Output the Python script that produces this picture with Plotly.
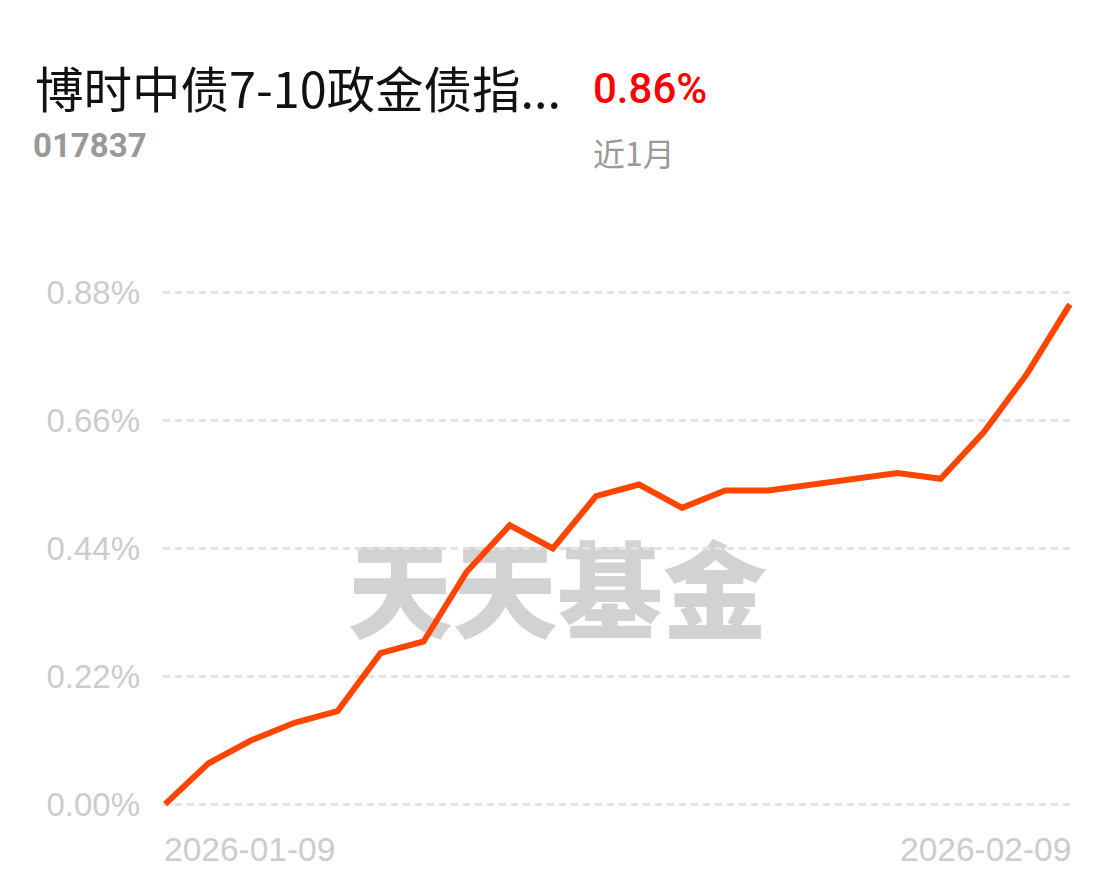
import plotly.graph_objects as go

# ---- data ----
dates = [
    "2026-01-09", "2026-01-12", "2026-01-13", "2026-01-14", "2026-01-15", "2026-01-16",
    "2026-01-19", "2026-01-20", "2026-01-21", "2026-01-22", "2026-01-23",
    "2026-01-26", "2026-01-27", "2026-01-28", "2026-01-29", "2026-01-30",
    "2026-02-02", "2026-02-03", "2026-02-04", "2026-02-05", "2026-02-06",
    "2026-02-09",
]
returns = [
    0.00, 0.07, 0.11, 0.14, 0.16, 0.26,
    0.28, 0.40, 0.48, 0.44, 0.53,
    0.55, 0.51, 0.54, 0.54, 0.55,
    0.56, 0.57, 0.56, 0.64, 0.74,
    0.86,
]
y_ticks = [0.00, 0.22, 0.44, 0.66, 0.88]
y_tick_labels = ["0.00%", "0.22%", "0.44%", "0.66%", "0.88%"]
x_label_first = dates[0]
x_label_last = dates[-1]

fund_name = "博时中债7-10政金债指..."
fund_code = "017837"
period_return = "0.86%"
period_label = "近1月"
watermark = "天天基金"

# ---- layout geometry (page body has an 8px margin) ----
O = 8
W, H = 1116 - O, 881 - O
L, R, T, B = 155, 44, 279, 71
PW, PH = W - L - R, H - T - B


def px(xp):
    return (xp - O - L) / PW


def py(yp):
    return (H - B - (yp - O)) / PH


fig = go.Figure()
fig.add_trace(go.Scatter(
    x=dates, y=returns, mode="lines",
    line=dict(color="#ff4500", width=6),
    hoverinfo="skip",
))

# watermark below gridlines and line
fig.add_shape(
    type="rect", xref="paper", yref="paper",
    x0=px(350), x1=px(765), y0=py(650), y1=py(552),
    line=dict(width=0), fillcolor="rgba(0,0,0,0)", layer="below",
    label=dict(text=watermark, textposition="middle center",
               font=dict(size=105, color="#d2d2d2", family="Noto Sans CJK SC", weight=900)),
)

ann = []
ann.append(dict(text=fund_name, x=px(33), y=py(87), xref="paper", yref="paper",
                xanchor="left", yanchor="middle", showarrow=False,
                font=dict(size=48.5, color="#111111", family="Noto Sans CJK SC")))
ann.append(dict(text=period_return, x=px(591), y=py(88), xref="paper", yref="paper",
                xanchor="left", yanchor="middle", showarrow=False,
                font=dict(size=42, color="#ff0000", family="Roboto", weight=500)))
ann.append(dict(text=fund_code, x=px(31), y=py(146), xref="paper", yref="paper",
                xanchor="left", yanchor="middle", showarrow=False,
                font=dict(size=33, color="#999999", family="Roboto", weight=700)))
ann.append(dict(text=period_label, x=px(591), y=py(152), xref="paper", yref="paper",
                xanchor="left", yanchor="middle", showarrow=False,
                font=dict(size=32, color="#999999", family="Noto Sans CJK SC")))
ann.append(dict(text=x_label_first, x=x_label_first, y=py(849), xref="x", yref="paper",
                xanchor="left", yanchor="middle", showarrow=False, xshift=-3,
                font=dict(size=33.5, color="#cccccc", family="Liberation Sans")))
ann.append(dict(text=x_label_last, x=x_label_last, y=py(849), xref="x", yref="paper",
                xanchor="right", yanchor="middle", showarrow=False, xshift=3,
                font=dict(size=33.5, color="#cccccc", family="Liberation Sans")))

fig.update_layout(
    width=W, height=H,
    margin=dict(l=L, r=R, t=T, b=B, pad=0),
    paper_bgcolor="white", plot_bgcolor="rgba(0,0,0,0)",
    showlegend=False,
    annotations=ann,
    xaxis=dict(type="category", range=[-0.05, len(dates) - 1 + 0.05],
               showgrid=False, showticklabels=False, zeroline=False, showline=False,
               fixedrange=True),
    yaxis=dict(range=[-0.01, 0.89], tickmode="array", tickvals=y_ticks, ticktext=y_tick_labels,
               showgrid=True, gridcolor="#e2e2e2", gridwidth=2.5, griddash="7px,5px",
               zeroline=False, showline=False, ticks="",
               tickfont=dict(size=33, color="#cccccc", family="Liberation Sans"),
               ticklabelstandoff=22, fixedrange=True),
)

fig.write_html("out.html")
